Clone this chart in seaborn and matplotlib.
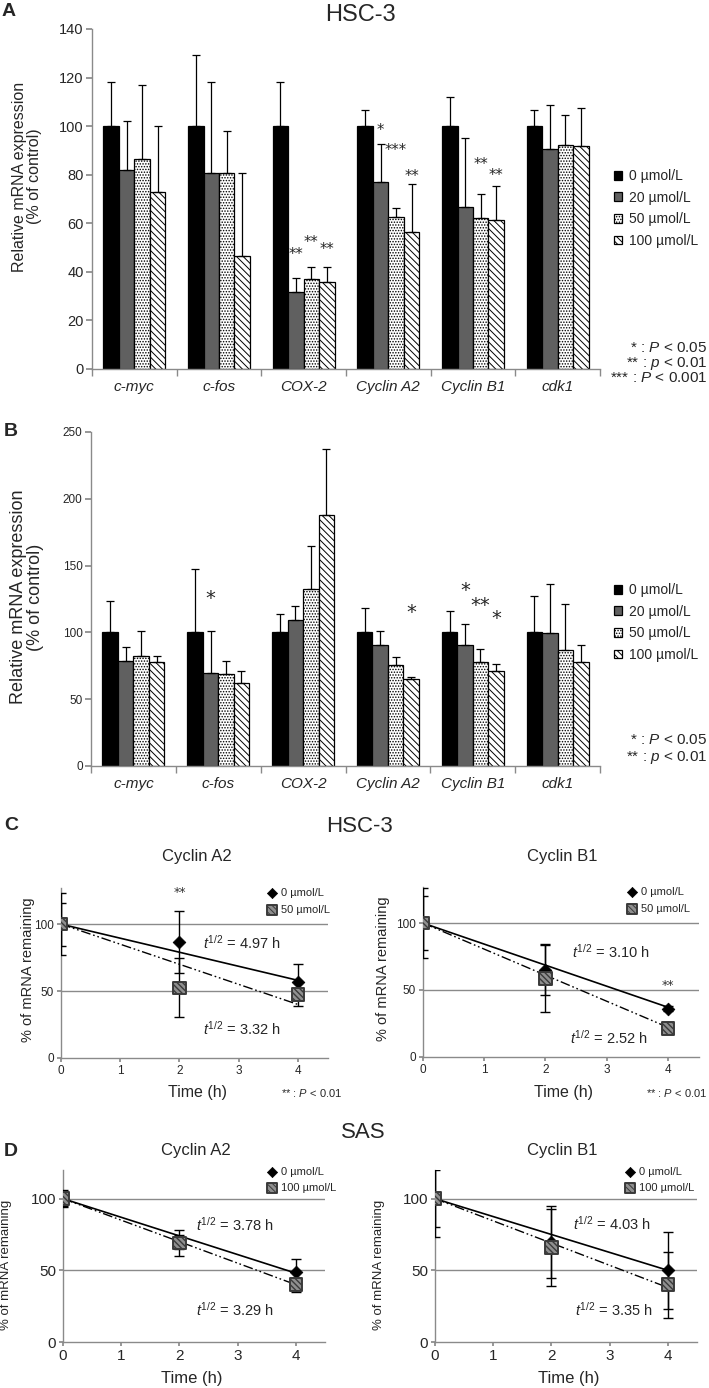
import matplotlib
matplotlib.use("Agg")
import matplotlib.pyplot as plt
import seaborn as sns
import pandas as pd
import numpy as np

sns.set_theme(style="ticks")
plt.rcParams['font.family'] = ['Liberation Sans', 'DejaVu Sans']
plt.rcParams['mathtext.fontset'] = 'custom'
plt.rcParams['mathtext.rm'] = 'Liberation Sans'
plt.rcParams['mathtext.it'] = 'Liberation Sans:italic'
plt.rcParams['hatch.linewidth'] = 0.7

# ---------------- данные ----------------
genes = ['c-myc', 'c-fos', 'COX-2', 'Cyclin A2', 'Cyclin B1', 'cdk1']
doses = ['0 µmol/L', '20 µmol/L', '50 µmol/L', '100 µmol/L']

# A: HSC-3, среднее и SD (% of control)
a_mean_0 = [100, 100, 100, 100, 100, 100]
a_mean_20 = [82, 80.5, 31.5, 77, 66.5, 90.7]
a_mean_50 = [86.5, 80.5, 37, 62.4, 62, 92.2]
a_mean_100 = [73, 46.5, 36, 56.5, 61.5, 91.8]
a_sd_0 = [18, 29.5, 18, 6.5, 12, 6.5]
a_sd_20 = [20, 37.5, 6, 15.8, 28.7, 18.2]
a_sd_50 = [30.5, 17.5, 5, 4, 10, 12.3]
a_sd_100 = [27, 34, 6, 19.5, 13.8, 15.7]

a_star_gene = [2, 2, 2, 3, 3, 3, 4, 4]
a_star_dose = [1, 2, 3, 1, 2, 3, 2, 3]
a_star_y = [48, 53, 50, 99, 91, 80, 85, 80.5]
a_star_txt = ['**', '**', '**', '*', '***', '**', '**', '**']

# B
b_mean_0 = [100, 100, 100, 100, 100, 100]
b_mean_20 = [78.3, 69.5, 109.5, 90.3, 90.3, 99.5]
b_mean_50 = [82, 68.5, 132.5, 75.8, 77.5, 86.5]
b_mean_100 = [77.5, 62, 187.7, 65, 71.3, 77.5]
b_sd_0 = [23.3, 47.5, 13.8, 18.2, 15.8, 27]
b_sd_20 = [10.5, 31.8, 10.5, 11, 16, 37]
b_sd_50 = [19.3, 9.8, 32, 5.5, 10, 35]
b_sd_100 = [5, 9.3, 49.3, 1.5, 5.2, 12.8]

b_star_gene = [1, 3, 4, 4, 4]
b_star_dose = [1, 3, 1, 2, 3]
b_star_y = [128, 117.5, 133.7, 122.5, 112.5]
b_star_txt = ['*', '*', '*', '**', '*']

# C / D: распад мРНК
time_h = [0, 2, 4]
fit_x = [0, 4]

c_a2_ctrl = [100, 86.6, 57]
c_a2_ctrl_sd = [23, 23, 13]
c_a2_trt = [100, 52.5, 47.5]
c_a2_trt_sd = [16, 22, 9]
c_a2_fit_ctrl = [100, 58]
c_a2_fit_trt = [100, 40]

c_b1_ctrl = [100, 65, 36]
c_b1_ctrl_sd = [26, 19, 2]
c_b1_trt = [100, 58.5, 21]
c_b1_trt_sd = [20, 25, 2]
c_b1_fit_ctrl = [100, 37]
c_b1_fit_trt = [100, 22]

d_a2_ctrl = [100, 70, 49]
d_a2_ctrl_sd = [5, 5, 9]
d_a2_trt = [100, 69, 40]
d_a2_trt_sd = [6, 9, 5]
d_a2_fit_ctrl = [100, 48]
d_a2_fit_trt = [100, 40]

d_b1_ctrl = [100, 70, 50]
d_b1_ctrl_sd = [20, 25, 27]
d_b1_trt = [100, 66, 40]
d_b1_trt_sd = [27, 27, 23]
d_b1_fit_ctrl = [100, 50]
d_b1_fit_trt = [100, 38]

W, H = 709, 1388
fig = plt.figure(figsize=(W / 100, H / 100), dpi=100)
AX_GRAY = '#8a8a8a'


def add_ax(l, t, r, b):
    return fig.add_axes([l / W, 1 - b / H, (r - l) / W, (b - t) / H])


def ftext(x, y, s, **kw):
    kw.setdefault('ha', 'center')
    kw.setdefault('va', 'center')
    fig.text(x / W, 1 - y / H, s, **kw)


bar_face = ['black', '#606060', 'white', 'white']
bar_hatch = [None, None, '......', '\\\\\\\\\\']


def bar_panel(ax, means, sds, ymax, ystep, tick_fs, ylab_fs,
              star_gene, star_dose, star_y, star_txt, star_fs, leg_top):
    df = pd.DataFrame({'gene': np.tile(genes, len(doses)),
                       'dose': np.repeat(doses, len(genes)),
                       'value': np.concatenate(means)})
    sns.barplot(data=df, x='gene', y='value', hue='dose', order=genes,
                hue_order=doses, width=0.73, errorbar=None, ax=ax, legend=False)
    bar_conts = list(ax.containers)
    centers = []
    for cont, fc, hatch, sd in zip(bar_conts, bar_face, bar_hatch, sds):
        row = []
        for p, e in zip(cont.patches, sd):
            p.set_facecolor(fc)
            p.set_edgecolor('black')
            p.set_linewidth(0.9)
            p.set_hatch(hatch)
            x = p.get_x() + p.get_width() / 2
            row.append(x)
            ax.errorbar(x, p.get_height(), yerr=[[0], [e]], fmt='none',
                        ecolor='black', elinewidth=0.9, capsize=3, capthick=0.9)
        centers.append(row)

    for g, d, y, s in zip(star_gene, star_dose, star_y, star_txt):
        ax.annotate(s, (centers[d][g], y), xytext=(0, -0.45 * star_fs),
                    textcoords='offset points', ha='center', va='baseline',
                    fontsize=star_fs, family='DejaVu Sans')

    ax.set_xlim(-0.5, 5.5)
    ax.set_ylim(0, ymax)
    ax.set_yticks(np.arange(0, ymax + 1, ystep))
    ax.set_xticks(range(len(genes)))
    ax.set_xticklabels(genes, fontstyle='italic', fontsize=11)
    ax.set_xticks(np.arange(-0.5, 6, 1), minor=True)
    ax.tick_params(axis='x', which='major', length=0, pad=8)
    ax.tick_params(axis='x', which='minor', length=5, color=AX_GRAY, width=1)
    ax.tick_params(axis='y', length=4, color=AX_GRAY, labelsize=tick_fs, pad=2)
    ax.set_xlabel('')
    ax.set_ylabel('Relative mRNA expression\n(% of control)', fontsize=ylab_fs,
                  linespacing=1.05)
    sns.despine(ax=ax)
    for sp in ('left', 'bottom'):
        ax.spines[sp].set_color(AX_GRAY)
        ax.spines[sp].set_linewidth(1)

    handles = [c.patches[0] for c in bar_conts]
    ax.legend(handles=handles, labels=doses, loc='upper left',
              bbox_to_anchor=(614 / W, 1 - leg_top / H), bbox_transform=fig.transFigure,
              frameon=False, fontsize=10, handlelength=0.6, handleheight=0.6,
              handletextpad=0.5, labelspacing=0.55, borderpad=0, borderaxespad=0)


def decay_panel(ax, ctrl, ctrl_sd, trt, trt_sd, fit_ctrl, fit_trt, trt_label,
                ymax, tick_fs, leg_xy, t1, t2, hl1, hl2, star=None):
    ax.set_xlim(0, 4.5)
    ax.set_ylim(0, ymax)
    for yv in (50, 100):
        ax.axhline(yv, color=AX_GRAY, lw=1, zorder=0)
    sns.lineplot(x=fit_x, y=fit_ctrl, ax=ax, color='black', lw=1.2, zorder=2)
    sns.lineplot(x=fit_x, y=fit_trt, ax=ax, color='black', lw=1.0,
                 linestyle=(0, (7, 2, 1.2, 2, 1.2, 2)), zorder=2)
    ax.errorbar(time_h, ctrl, yerr=ctrl_sd, fmt='none', ecolor='black',
                elinewidth=1, capsize=3.5, capthick=1, zorder=3)
    ax.errorbar(time_h, trt, yerr=trt_sd, fmt='none', ecolor='black',
                elinewidth=1, capsize=3.5, capthick=1, zorder=3)
    sns.scatterplot(x=time_h, y=ctrl, ax=ax, marker='D', s=42, color='black',
                    edgecolor='black', zorder=4)
    h1 = ax.collections[-1]
    # квадрат: серый с белой штриховкой
    with plt.rc_context({'hatch.color': 'white', 'hatch.linewidth': 1.0}):
        sns.scatterplot(x=time_h, y=trt, ax=ax, marker='s', s=80, color='#8f8f8f',
                        edgecolor='#3a3a3a', linewidth=1.4, hatch='\\\\\\\\\\\\',
                        zorder=5)
    h2 = ax.collections[-1]
    ax.legend(handles=[h1, h2], labels=['0 µmol/L', trt_label], loc='upper left',
              bbox_to_anchor=leg_xy, frameon=False, fontsize=8, markerscale=0.8,
              handlelength=1.2, handletextpad=0.2, labelspacing=0.6,
              borderpad=0, borderaxespad=0, scatterpoints=1)
    ax.text(t1[0], t1[1], r'$\mathit{t}^{1/2}$ = ' + hl1 + ' h', fontsize=10.5, va='center')
    ax.text(t2[0], t2[1], r'$\mathit{t}^{1/2}$ = ' + hl2 + ' h', fontsize=10.5, va='center')
    if star is not None:
        ax.annotate('**', star, xytext=(0, -4), textcoords='offset points',
                    ha='center', va='baseline', fontsize=9, family='DejaVu Sans',
                    color='#333333')
    ax.set_xticks([0, 1, 2, 3, 4])
    ax.set_yticks([0, 50, 100])
    ax.tick_params(length=3, color=AX_GRAY, labelsize=tick_fs, pad=2)
    sns.despine(ax=ax)
    for sp in ('left', 'bottom'):
        ax.spines[sp].set_color(AX_GRAY)
        ax.spines[sp].set_linewidth(1)


# ---------------- A ----------------
axA = add_ax(92, 29, 600, 369)
bar_panel(axA, [a_mean_0, a_mean_20, a_mean_50, a_mean_100],
          [a_sd_0, a_sd_20, a_sd_50, a_sd_100], 140, 20, 10.5, 11.5,
          a_star_gene, a_star_dose, a_star_y, a_star_txt, 10.5, 169)
axA.yaxis.set_label_coords(-0.098, 0.566)

# ---------------- B ----------------
axB = add_ax(91, 432, 600, 766)
bar_panel(axB, [b_mean_0, b_mean_20, b_mean_50, b_mean_100],
          [b_sd_0, b_sd_20, b_sd_50, b_sd_100], 250, 50, 8.5, 13,
          b_star_gene, b_star_dose, b_star_y, b_star_txt, 14, 583)
axB.yaxis.set_label_coords(-0.092, 0.506)

# ---------------- C ----------------
axC1 = add_ax(61, 888, 327.6, 1058)
decay_panel(axC1, c_a2_ctrl, c_a2_ctrl_sd, c_a2_trt, c_a2_trt_sd,
            c_a2_fit_ctrl, c_a2_fit_trt, '50 µmol/L', 127, 8.5, (0.765, 1.0),
            (2.4, 86), (2.4, 22), '4.97', '3.32', star=(2, 125))
axC1.set_ylabel('% of mRNA remaining', fontsize=10.5)
axC1.yaxis.set_label_coords(-0.098, 0.52)

axC2 = add_ax(423, 887, 698.6, 1056.7)
decay_panel(axC2, c_b1_ctrl, c_b1_ctrl_sd, c_b1_trt, c_b1_trt_sd,
            c_b1_fit_ctrl, c_b1_fit_trt, '50 µmol/L', 127, 8.5, (0.733, 1.0),
            (2.44, 78.5), (2.4, 14), '3.10', '2.52', star=(4, 55))
axC2.set_ylabel('% of mRNA remaining', fontsize=10.5)
axC2.yaxis.set_label_coords(-0.12, 0.52)

# ---------------- D ----------------
axD1 = add_ax(63, 1170, 325, 1342)
decay_panel(axD1, d_a2_ctrl, d_a2_ctrl_sd, d_a2_trt, d_a2_trt_sd,
            d_a2_fit_ctrl, d_a2_fit_trt, '100 µmol/L', 120, 11, (0.771, 1.02),
            (2.28, 82), (2.28, 22.4), '3.78', '3.29')
axD1.set_ylabel('% of mRNA remaining', fontsize=9.5)
axD1.yaxis.set_label_coords(-0.195, 0.45)

axD2 = add_ax(435, 1170, 697, 1342)
decay_panel(axD2, d_b1_ctrl, d_b1_ctrl_sd, d_b1_trt, d_b1_trt_sd,
            d_b1_fit_ctrl, d_b1_fit_trt, '100 µmol/L', 120, 11, (0.719, 1.02),
            (2.37, 82.6), (2.4, 22.2), '4.03', '3.35')
axD2.set_ylabel('% of mRNA remaining', fontsize=9.5)
axD2.yaxis.set_label_coords(-0.19, 0.45)

# ---------------- подписи ----------------
ftext(9, 11, 'A', fontsize=14, fontweight='bold')
ftext(360, 15, 'HSC-3', fontsize=17)
ftext(11, 432, 'B', fontsize=14, fontweight='bold')
ftext(11, 826, 'C', fontsize=14, fontweight='bold')
ftext(360, 826, 'HSC-3', fontsize=16)
ftext(11, 1152, 'D', fontsize=14, fontweight='bold')
ftext(363, 1133, 'SAS', fontsize=16)

ftext(197, 857, 'Cyclin A2', fontsize=12)
ftext(562, 857, 'Cyclin B1', fontsize=12)
ftext(196, 1150, 'Cyclin A2', fontsize=12)
ftext(562, 1150, 'Cyclin B1', fontsize=12)

ftext(197, 1093, 'Time (h)', fontsize=11.5)
ftext(563, 1093, 'Time (h)', fontsize=11.5)
ftext(192, 1379, 'Time (h)', fontsize=12)
ftext(569, 1379, 'Time (h)', fontsize=12)

ftext(342, 1093, r'** : $\mathit{P}$ < 0.01', fontsize=8, ha='right')
ftext(707, 1093, r'** : $\mathit{P}$ < 0.01', fontsize=8, ha='right')

ftext(707, 348, r'* : $\mathit{P}$ < 0.05', fontsize=11, ha='right')
ftext(707, 363, r'** : $\mathit{p}$ < 0.01', fontsize=11, ha='right')
ftext(707, 378, r'*** : $\mathit{P}$ < 0.001', fontsize=11, ha='right')

ftext(707, 740, r'* : $\mathit{P}$ < 0.05', fontsize=11, ha='right')
ftext(707, 757, r'** : $\mathit{p}$ < 0.01', fontsize=11, ha='right')

fig.savefig('out.png', dpi=100)
